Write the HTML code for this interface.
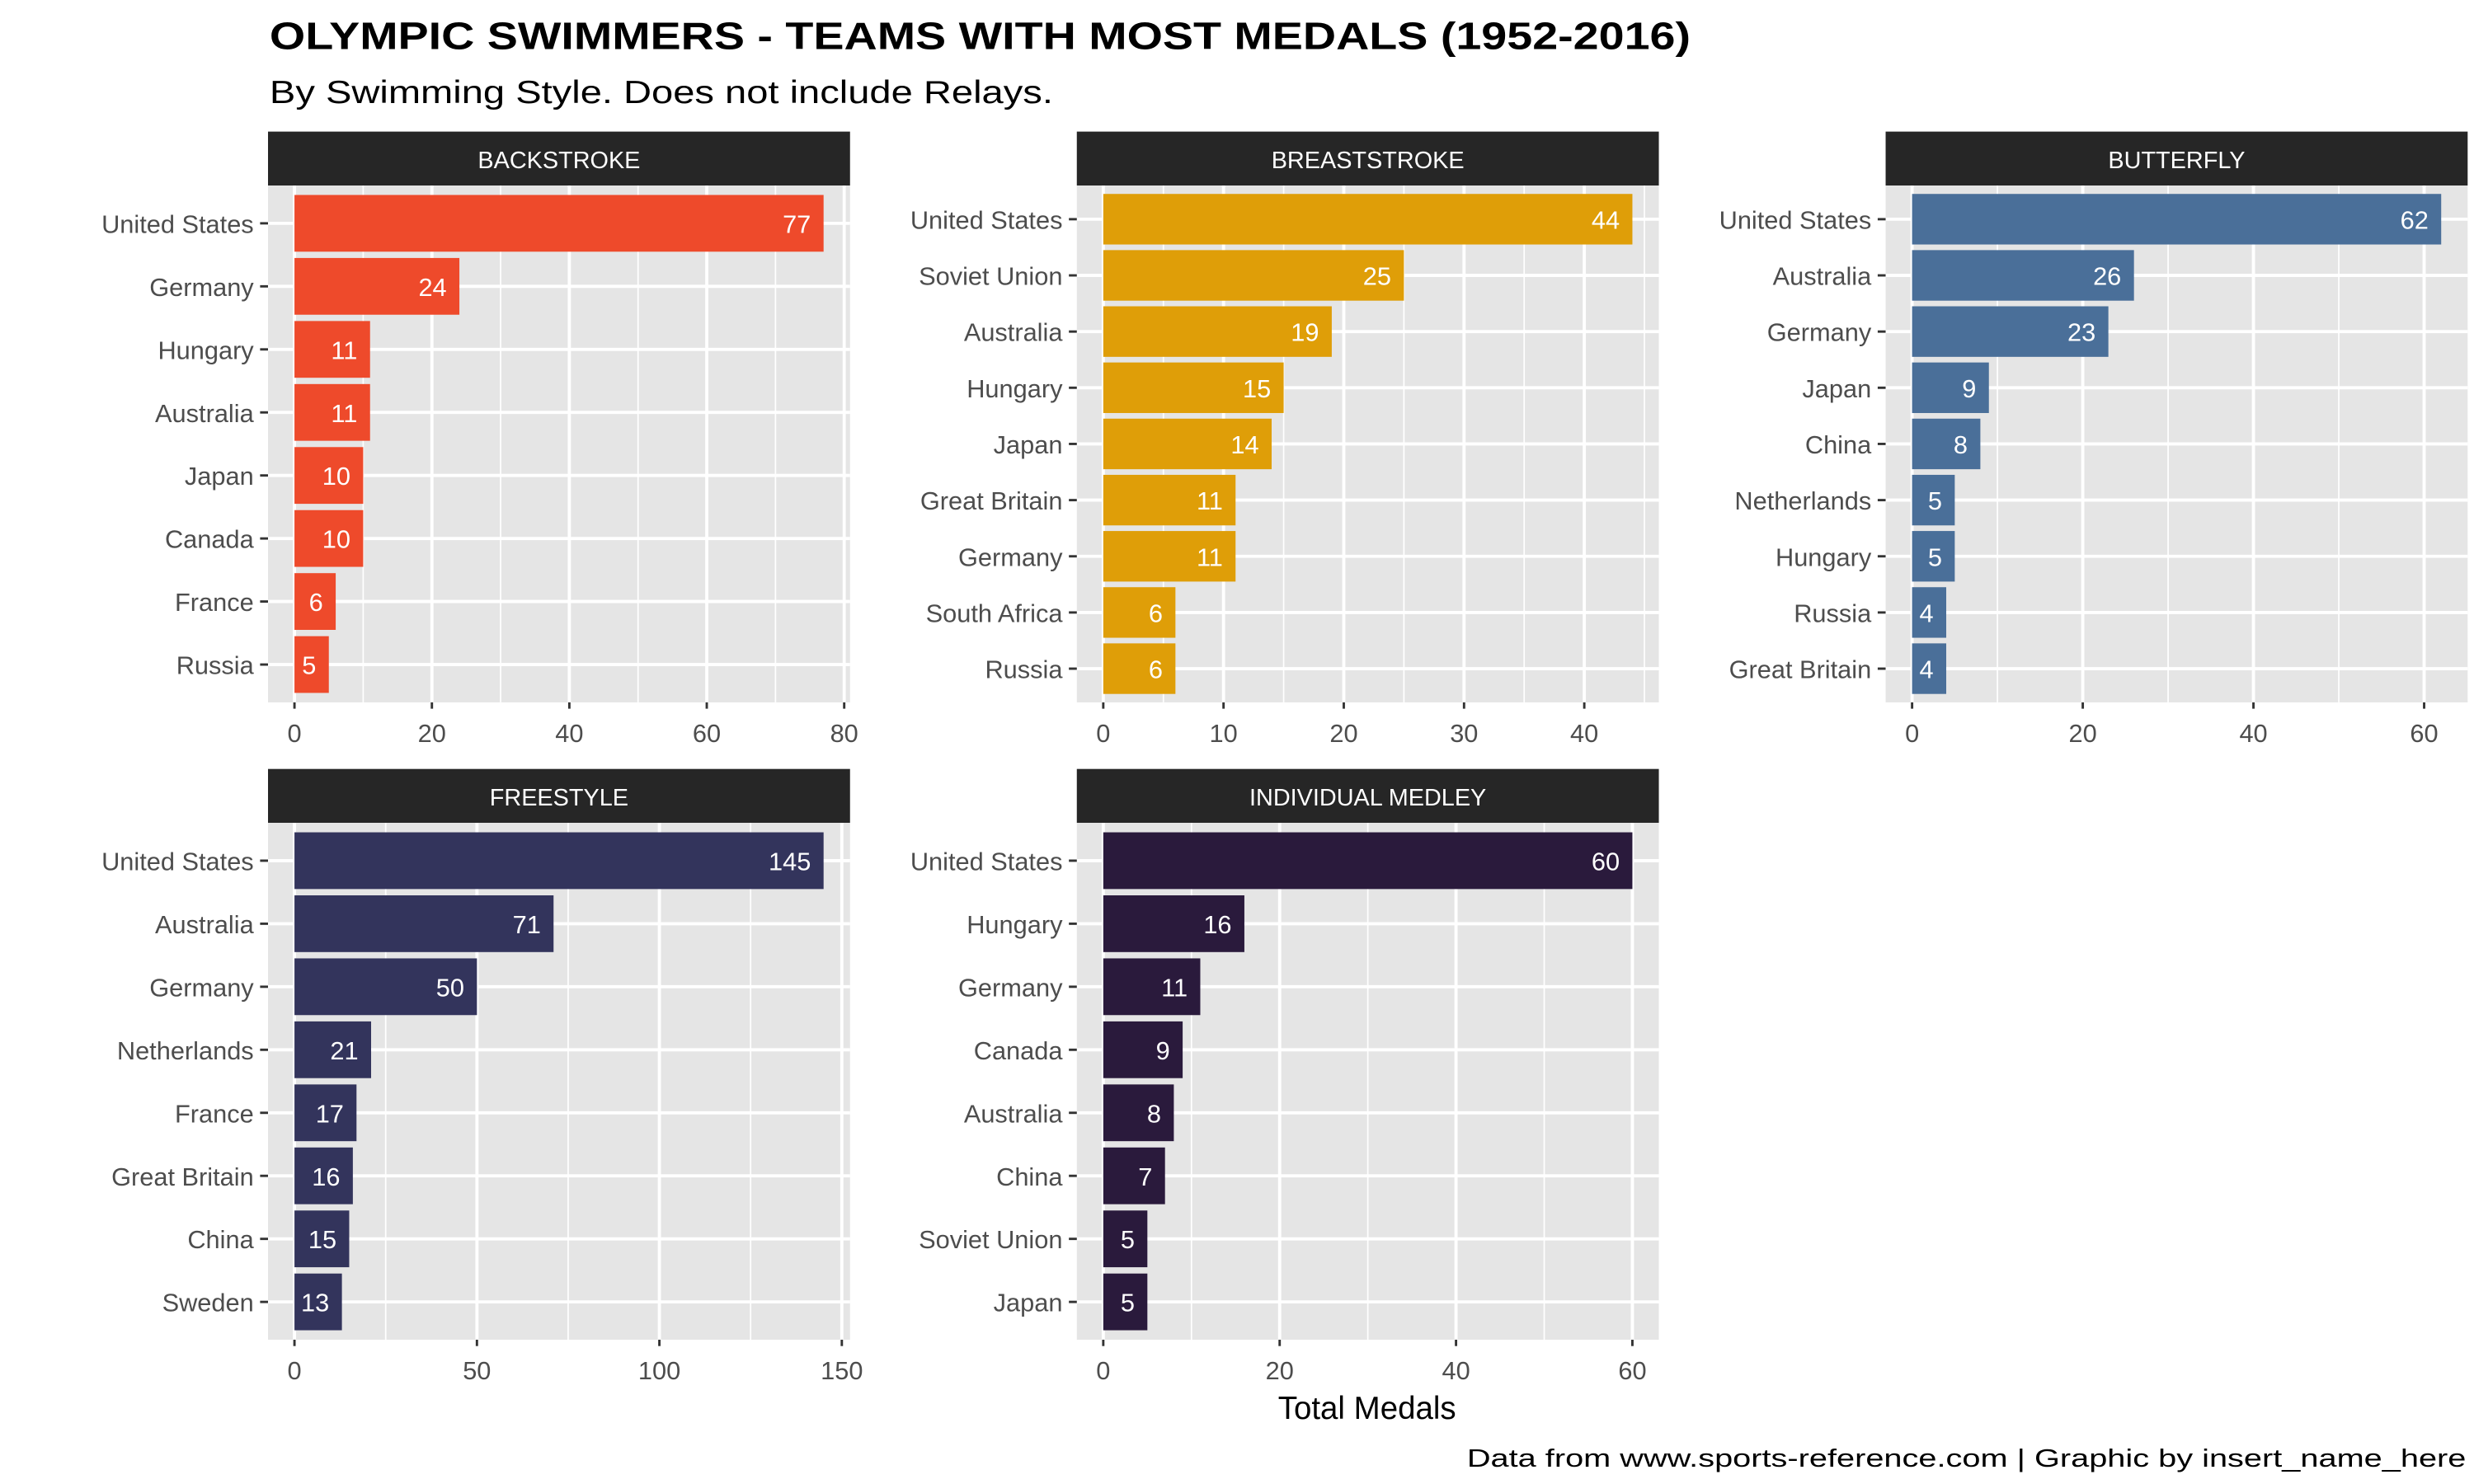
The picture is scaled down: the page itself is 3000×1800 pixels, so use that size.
<!DOCTYPE html>
<html><head><meta charset="utf-8"><style>
html,body{margin:0;padding:0;background:#fff;}
svg{display:block;}
text{font-family:"Liberation Sans",sans-serif;}
</style></head><body>
<svg id="chart" width="3000" height="1800" viewBox="0 0 1560 936" xmlns="http://www.w3.org/2000/svg">
<rect width="1560" height="936" fill="#fff"/>
<text x="170" y="31" font-size="24" font-weight="bold" fill="#000" textLength="896" lengthAdjust="spacingAndGlyphs">OLYMPIC SWIMMERS - TEAMS WITH MOST MEDALS (1952-2016)</text>
<text x="170" y="65" font-size="20" fill="#000" textLength="494" lengthAdjust="spacingAndGlyphs">By Swimming Style. Does not include Relays.</text>
<text x="862" y="895" font-size="20" fill="#000" text-anchor="middle">Total Medals</text>
<text x="1555" y="925" font-size="16" fill="#000" text-anchor="end" textLength="630" lengthAdjust="spacingAndGlyphs">Data from www.sports-reference.com | Graphic by insert_name_here</text>
<g id="panels"></g>
</svg>
<script>
const backCats = ["United States","Germany","Hungary","Australia","Japan","Canada","France","Russia"];
const backVals = [77,24,11,11,10,10,6,5];
const backTicks = [0,20,40,60,80];
const breastCats = ["United States","Soviet Union","Australia","Hungary","Japan","Great Britain","Germany","South Africa","Russia"];
const breastVals = [44,25,19,15,14,11,11,6,6];
const breastTicks = [0,10,20,30,40];
const flyCats = ["United States","Australia","Germany","Japan","China","Netherlands","Hungary","Russia","Great Britain"];
const flyVals = [62,26,23,9,8,5,5,4,4];
const flyTicks = [0,20,40,60];
const freeCats = ["United States","Australia","Germany","Netherlands","France","Great Britain","China","Sweden"];
const freeVals = [145,71,50,21,17,16,15,13];
const freeTicks = [0,50,100,150];
const imCats = ["United States","Hungary","Germany","Canada","Australia","China","Soviet Union","Japan"];
const imVals = [60,16,11,9,8,7,5,5];
const imTicks = [0,20,40,60];

const NS="http://www.w3.org/2000/svg";
const root=document.getElementById('panels');
function mk(tag,attrs,parent){const e=document.createElementNS(NS,tag);for(const k in attrs)e.setAttribute(k,attrs[k]);(parent||root).appendChild(e);return e;}

function panel(key,title,cats,vals,ticks,color,px,py){
  const W=367,stripH=34,plotH=326;
  const g=mk('g',{});
  
  
  const top=py+stripH,bot=top+plotH;
  const s=mk('rect',{x:px,y:py,width:W,height:stripH,fill:'#262626'},g);
  
  
  const st=mk('text',{x:px+W/2,y:py+23,'font-size':15,fill:'#fff','text-anchor':'middle'},g);
  st.textContent=title;
  
  
  const bg=mk('rect',{x:px,y:top,width:W,height:plotH,fill:'#E5E5E5'},g);
  
  
  const max=Math.max(...vals);
  const lo=-0.05*max,hi=max*1.05;
  const sx=v=>px+(v-lo)/(hi-lo)*W;
  const n=cats.length;
  const step=plotH/(n-1+1.2);
  const sy=i=>top+step*0.6+i*step;
  // minor grid
  const tstep=ticks[1]-ticks[0];
  for(let t=ticks[0]-tstep/2;t<=ticks[ticks.length-1]+tstep/2;t+=tstep){
    const x=sx(t); if(x<px||x>px+W)continue;
    mk('line',{x1:x,x2:x,y1:top,y2:bot,stroke:'#fff','stroke-width':0.9},g);
  }
  ticks.forEach(t=>{const x=sx(t);if(x>px+W+0.5)return;
    mk('line',{x1:x,x2:x,y1:top,y2:bot,stroke:'#fff','stroke-width':2},g);
    mk('line',{x1:x,x2:x,y1:bot,y2:bot+4,stroke:'#333','stroke-width':1.5},g);
    const tl=mk('text',{x:x,y:bot+25,'font-size':16,fill:'#4D4D4D','text-anchor':'middle'},g);
    tl.textContent=t;
    
    
  });
  cats.forEach((c,i)=>{const y=sy(i);
    mk('line',{x1:px,x2:px+W,y1:y,y2:y,stroke:'#fff','stroke-width':2},g);
    mk('line',{x1:px-5,x2:px,y1:y,y2:y,stroke:'#333','stroke-width':1.5},g);
    const yl=mk('text',{x:px-9,y:y+6,'font-size':16,fill:'#4D4D4D','text-anchor':'end'},g);
    yl.textContent=c;
    
    
  });
  vals.forEach((v,i)=>{const y=sy(i),h=step*0.9;
    const b=mk('rect',{x:sx(0),y:y-h/2,width:sx(v)-sx(0),height:h,fill:color},g);
    
    
    const l=mk('text',{x:sx(v)-8,y:y+6,'font-size':16,fill:'#fff','text-anchor':'end'},g);
    l.textContent=v;
    
    
  });
}
panel('backstroke','BACKSTROKE',backCats,backVals,backTicks,'#EE4A2B',169,83);
panel('breaststroke','BREASTSTROKE',breastCats,breastVals,breastTicks,'#DF9E08',679,83);
panel('butterfly','BUTTERFLY',flyCats,flyVals,flyTicks,'#4A6F99',1189,83);
panel('freestyle','FREESTYLE',freeCats,freeVals,freeTicks,'#33345C',169,485);
panel('individual-medley','INDIVIDUAL MEDLEY',imCats,imVals,imTicks,'#2A1A3C',679,485);
</script>
</body></html>
